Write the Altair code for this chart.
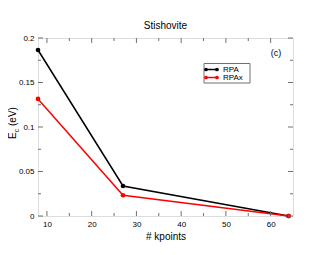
import altair as alt
import pandas as pd

kpoints = [8, 27, 64]
rpa = [0.1865, 0.0337, 0.0]
rpax = [0.1315, 0.0233, 0.0]
series = ["RPA", "RPAx"]
colors = ["black", "#ff0000"]

x_major = [10, 20, 30, 40, 50, 60]
x_minor = [15, 25, 35, 45, 55]
y_major = [0, 0.05, 0.1, 0.15, 0.2]
y_minor = [0.025, 0.075, 0.125, 0.175]

W, H = 255, 178
FONT = "Liberation Sans"
FRAME = "#707070"

df = pd.DataFrame({
    "kpoints": kpoints * 2,
    "ec": rpa + rpax,
    "series": ["RPA"] * 3 + ["RPAx"] * 3,
})

xs = alt.Scale(domain=[8, 65], nice=False, zero=False)
ys = alt.Scale(domain=[0, 0.2], nice=False, zero=False)
cs = alt.Scale(domain=series, range=colors)

base = alt.Chart(df)
xenc = alt.X("kpoints:Q", scale=xs,
             axis=alt.Axis(values=x_major, title="# kpoints", ticks=False, domain=False,
                           grid=False, labelFontSize=8, labelPadding=4, titleFontSize=10,
                           titleFontWeight="normal", titlePadding=3, labelFont=FONT,
                           titleFont=FONT, labelColor="black", titleColor="black"))
yenc = alt.Y("ec:Q", scale=ys,
             axis=alt.Axis(values=y_major, title=None, ticks=False, domain=False, grid=False,
                           labelFontSize=8, labelPadding=4, format="~g", labelFont=FONT,
                           labelColor="black"))

lines = base.mark_line(strokeWidth=1.5).encode(
    x=xenc, y=yenc,
    color=alt.Color("series:N", scale=cs, legend=None),
    order=alt.Order("kpoints:Q"),
    detail="series:N",
)
pts = base.mark_circle(size=22, opacity=1).encode(
    x="kpoints:Q", y="ec:Q",
    color=alt.Color("series:N", scale=cs, legend=None),
)

def xticks(vals, length):
    d = alt.Chart(pd.DataFrame({"v": vals}))
    b = d.mark_rule(color=FRAME, strokeWidth=1).encode(
        x=alt.X("v:Q", scale=xs), y=alt.value(H), y2=alt.value(H - length))
    t = d.mark_rule(color=FRAME, strokeWidth=1).encode(
        x=alt.X("v:Q", scale=xs), y=alt.value(0), y2=alt.value(length))
    return [b, t]

def yticks(vals, length):
    d = alt.Chart(pd.DataFrame({"v": vals}))
    l = d.mark_rule(color=FRAME, strokeWidth=1).encode(
        y=alt.Y("v:Q", scale=ys), x=alt.value(0), x2=alt.value(length))
    r = d.mark_rule(color=FRAME, strokeWidth=1).encode(
        y=alt.Y("v:Q", scale=ys), x=alt.value(W), x2=alt.value(W - length))
    return [l, r]

tick_layers = xticks(x_major, 5) + xticks(x_minor, 3) + yticks(y_major, 5) + yticks(y_minor, 3)

# y-axis title with subscript
one = alt.Chart(pd.DataFrame({"a": [0]}))
e_txt = one.mark_text(text="E", angle=270, align="left", baseline="alphabetic",
                      fontSize=10, font=FONT, color="black").encode(
    x=alt.value(-22), y=alt.value(101))
c_txt = one.mark_text(text="c", angle=270, align="left", baseline="alphabetic",
                      fontSize=7, font=FONT, color="black").encode(
    x=alt.value(-19), y=alt.value(94.3))
ev_txt = one.mark_text(text="(eV)", angle=270, align="left", baseline="alphabetic",
                       fontSize=10, font=FONT, color="black").encode(
    x=alt.value(-22), y=alt.value(88))

panel = one.mark_text(text="(c)", fontSize=9, font=FONT, color="black",
                      align="center", baseline="alphabetic").encode(
    x=alt.value(238), y=alt.value(18))

# legend
box = one.mark_rect(fill="white", stroke=FRAME, strokeWidth=1).encode(
    x=alt.value(166), x2=alt.value(212), y=alt.value(25.5), y2=alt.value(45))
leg = [box]
for i, (name, col) in enumerate(zip(series, colors)):
    yy = 31.5 + 8 * i
    leg.append(one.mark_rule(color=col, strokeWidth=1.5).encode(
        x=alt.value(168), x2=alt.value(179), y=alt.value(yy)))
    leg.append(alt.Chart(pd.DataFrame({"px": [168, 179]})).mark_circle(
        size=14, color=col, opacity=1).encode(
        x=alt.X("px:Q", scale=None), y=alt.value(yy)))
    leg.append(one.mark_text(text=name, fontSize=8, font=FONT, color="black",
                             align="left", baseline="middle").encode(
        x=alt.value(185), y=alt.value(yy)))

chart = alt.layer(lines, pts, *tick_layers, e_txt, c_txt, ev_txt, panel, *leg).properties(
    width=W, height=H,
    title=alt.TitleParams("Stishovite", fontSize=10, fontWeight="normal", font=FONT,
                          color="black", offset=3),
    autosize=alt.AutoSizeParams(type="none"),
    padding={"left": 30, "top": 30, "right": 29, "bottom": 31},
).configure_view(stroke=FRAME, strokeWidth=1).configure(background="white")

chart.save("out.html", embed_options={"renderer": "svg", "actions": False})
